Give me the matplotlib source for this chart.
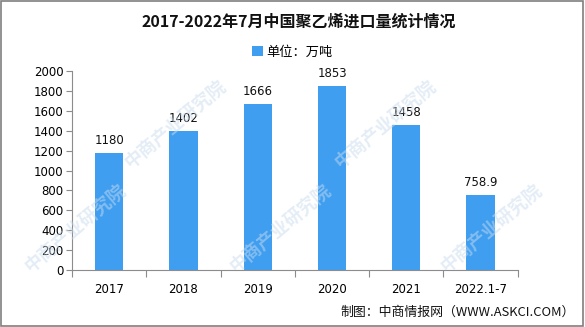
import numpy as np
import matplotlib.pyplot as plt
from matplotlib.patches import Rectangle

plt.rcParams['font.family'] = ['Noto Sans CJK SC', 'DejaVu Sans']

categories = ['2017', '2018', '2019', '2020', '2021', '2022.1-7']
values = [1180, 1402, 1666, 1853, 1458, 758.9]
value_labels = ['1180', '1402', '1666', '1853', '1458', '758.9']
yticks = list(range(0, 2001, 200))

BLUE = '#3f9ef0'
GRAY = '#8c8c8c'

fig = plt.figure(figsize=(5.85, 3.27), dpi=100)
ax = fig.add_axes([0.123, 0.174, 0.762, 0.609])

# faint watermarks, kept inside the frame
for wx, wy in [(0.30, 0.62), (0.66, 0.62), (0.13, 0.30), (0.48, 0.30), (0.84, 0.30)]:
    fig.text(wx, wy, '中商产业研究院', rotation=40, fontsize=13, fontweight='bold',
             color='#c9dcee', alpha=0.5, ha='center', va='center', zorder=0)

x = np.arange(len(categories))
ax.bar(x, values, width=0.38, color=BLUE, zorder=2, label='单位：万吨')
for xi, v, t in zip(x, values, value_labels):
    ax.text(xi, v + 60, t, ha='center', va='bottom', fontsize=8.5,
            family=['DejaVu Sans'], color='#111111')

ax.set_xlim(-0.5, len(categories) - 0.5)
ax.set_ylim(0, 2000)
ax.set_yticks(yticks)
ax.set_yticklabels([str(t) for t in yticks], fontsize=8.5, family=['DejaVu Sans'])
ax.set_xticks(np.arange(-0.5, len(categories), 1.0))
ax.set_xticklabels([])
ax.set_xticks(x, minor=True)
ax.set_xticklabels(categories, minor=True, fontsize=8.5, family=['DejaVu Sans'])
ax.tick_params(axis='x', which='major', length=5, color=GRAY, direction='out')
ax.tick_params(axis='x', which='minor', length=0, pad=9)
ax.tick_params(axis='y', length=4, color=GRAY, direction='out', pad=2)
ax.patch.set_alpha(0)
for s in ['top', 'right']:
    ax.spines[s].set_visible(False)
for s in ['left', 'bottom']:
    ax.spines[s].set_color(GRAY)

fig.text(0.51, 0.935, '2017-2022年7月中国聚乙烯进口量统计情况', ha='center', va='center',
         fontsize=11.5, fontweight='bold', color='#111111')
fig.legend(loc='center', bbox_to_anchor=(0.5, 0.84), frameon=False, fontsize=9.5,
           handlelength=0.8, handleheight=0.8, handletextpad=0.3)
fig.text(0.983, 0.045, '制图：中商情报网（WWW.ASKCI.COM）', ha='right', va='center',
         fontsize=9.3, color='#111111')

fig.add_artist(Rectangle((0.001, 0.003), 0.995, 0.994, transform=fig.transFigure,
                         fill=False, edgecolor='#7f7f7f', linewidth=1.2))

fig.savefig('out.png', dpi=100)
